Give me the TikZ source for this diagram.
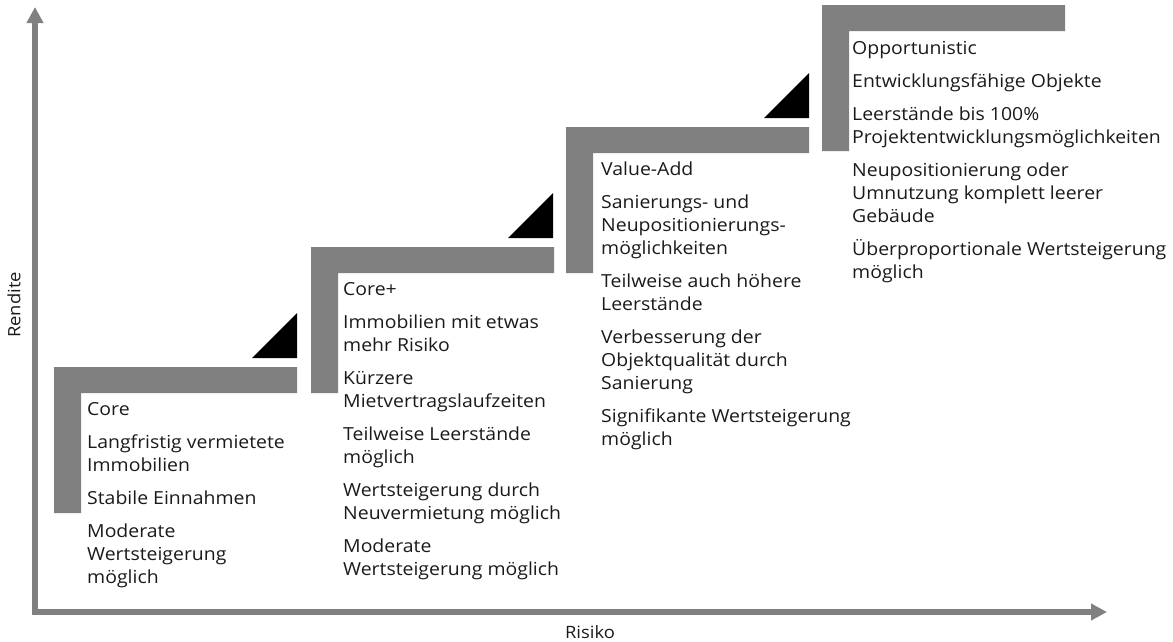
\documentclass[tikz,border=0pt]{standalone}
\usepackage{fontspec}
\setmainfont{Open Sans}[FakeStretch=1.08]
\usetikzlibrary{arrows.meta}
\definecolor{bargray}{HTML}{808080}
\definecolor{txtcol}{HTML}{1A1A1A}
\tikzset{
  axisline/.style={draw=bargray, line width=5.5pt, line join=miter,
    {Triangle[width=16pt,length=16pt]}-{Triangle[width=16pt,length=16pt]}},
  stepbar/.style={fill=bargray, draw=none},
  steptri/.style={fill=black, draw=none},
  steptext/.style={anchor=north west, inner sep=0pt, align=left, text=txtcol,
    font=\fontsize{18}{23}\selectfont},
  axislabel/.style={inner sep=0pt, text=txtcol, font=\fontsize{17}{20}\selectfont}
}
\begin{document}
\begin{tikzpicture}[x=1pt,y=-1pt]
\useasboundingbox (0,0) rectangle (1173,641);
% axes
\coordinate (O) at (35,612);
\coordinate (ytip) at (35,7);
\coordinate (xtip) at (1107,612);
\draw[axisline] (xtip) -- (O) -- (ytip);
\node[axislabel, rotate=90] (rendite) at (14,305) {Rendite};
\node[axislabel] (risiko) at (590,632) {Risiko};
% steps
\foreach \L/\T in {54/367, 311/247, 566/127, 822/5}{
  \fill[stepbar] (\L,\T) -- ++(243,0) -- ++(0,26) -- ++(-216,0) -- ++(0,120) -- ++(-27,0) -- cycle;
}
\foreach \R/\T in {297/367, 553/247, 809/127}{
  \fill[steptri] (\R,\T-54) -- (\R,\T-9) -- (\R-45,\T-9) -- cycle;
}
% texts
\node[steptext] (core) at (87,402) {Core\\[10pt]Langfristig vermietete\\Immobilien\\[10pt]Stabile Einnahmen\\[10pt]Moderate\\Wertsteigerung\\möglich};
\node[steptext] (coreplus) at (343,282) {Core+\\[10pt]Immobilien mit etwas\\mehr Risiko\\[10pt]Kürzere\\Mietvertragslaufzeiten\\[10pt]Teilweise Leerstände\\möglich\\[10pt]Wertsteigerung durch\\Neuvermietung möglich\\[10pt]Moderate\\Wertsteigerung möglich};
\node[steptext] (valueadd) at (601,162) {Value-Add\\[10pt]Sanierungs- und\\Neupositionierungs-\\möglichkeiten\\[10pt]Teilweise auch höhere\\Leerstände\\[10pt]Verbesserung der\\Objektqualität durch\\Sanierung\\[10pt]Signifikante Wertsteigerung\\möglich};
\node[steptext] (opport) at (852,41) {Opportunistic\\[10pt]Entwicklungsfähige Objekte\\[10pt]Leerstände bis 100\%\\Projektentwicklungsmöglichkeiten\\[10pt]Neupositionierung oder\\Umnutzung komplett leerer\\Gebäude\\[10pt]Überproportionale Wertsteigerung\\möglich};
\end{tikzpicture}
\end{document}
